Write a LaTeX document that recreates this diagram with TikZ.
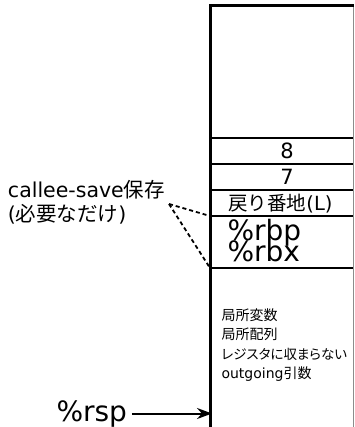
\documentclass[tikz,border=0pt]{standalone}
\usepackage{fontspec}
\setmainfont{DejaVu Sans}
\newfontfamily\dv{DejaVu Sans}
\newfontfamily\cjk{Noto Sans CJK JP}
\newfontfamily\cjkp[RawFeature=+palt]{Noto Sans CJK JP}
\usetikzlibrary{arrows.meta}
\begin{document}
\begin{tikzpicture}[x=1pt,y=-1pt,
  frame/.style={line width=3pt},
  sep/.style={line width=2.2pt},
  rightedge/.style={line width=1pt,draw=black!45},
  lbl/.style={inner sep=0pt,outer sep=0pt},
  big/.style={lbl,font=\dv\fontsize{28}{28}\selectfont},
  mid/.style={lbl,font=\dv\fontsize{21}{21}\selectfont},
  ret/.style={lbl,font=\dv\fontsize{19.5}{19.5}\selectfont},
  small/.style={lbl,font=\dv\fontsize{14}{14}\selectfont},
  smallkana/.style={lbl,font=\dv\fontsize{13.5}{13.5}\selectfont},
  note/.style={lbl,font=\dv\fontsize{20.5}{20.5}\selectfont},
  callout/.style={line width=1.8pt,dash pattern=on 4pt off 3pt},
  rsparrow/.style={line width=2pt,-{Stealth[length=15pt,width=11pt]}}]
\useasboundingbox (0,0) rectangle (354,427);
% frame
\coordinate (bl) at (210,427);
\coordinate (tl) at (210,6);
\coordinate (tr) at (354,6);
\draw[rightedge] (353,6) -- (353,427);
\draw[frame] (bl) -- (tl) -- (tr);
% separators
\coordinate (l1) at (210,138); \coordinate (r1) at (353,138);
\coordinate (l2) at (210,164); \coordinate (r2) at (353,164);
\coordinate (l3) at (210,190); \coordinate (r3) at (353,190);
\coordinate (rbptop) at (210,216); \coordinate (r4) at (353,216);
\coordinate (rbxbot) at (210,268); \coordinate (r5) at (353,268);
\draw[sep] (l1) -- (r1);
\draw[sep] (l2) -- (r2);
\draw[sep] (l3) -- (r3);
\draw[sep] (rbptop) -- (r4);
\draw[sep] (rbxbot) -- (r5);
% cell texts
\node[mid] (eight) at (287,151) {8};
\node[mid] (seven) at (287,177) {7};
\node[ret,anchor=base] (retaddr) at (280.5,211) {{\cjk 戻り番地}(L)};
\node[big,anchor=base west] (rbp) at (227.5,240) {\%rbp};
\node[big,anchor=base west] (rbx) at (227.5,261.7) {\%rbx};
\node[small,anchor=base west] (v1) at (221.5,320.3) {\cjk 局所変数};
\node[small,anchor=base west] (v2) at (221.5,339.8) {\cjk 局所配列};
\node[smallkana,anchor=base west] (v3) at (221.5,359.1) {\cjkp レジスタに収まらない};
\node[small,anchor=base west] (v4) at (221.5,378.3) {outgoing{\cjk 引数}};
% callee-save note
\node[note,anchor=base west] (cs1) at (8,197) {callee-save{\cjk 保存}};
\node[note,anchor=base west] (cs2) at (8,221) {({\cjk 必要なだけ})};
\coordinate (cs) at (169,204);
\draw[callout] (cs) -- (rbptop);
\draw[callout] (cs) -- (rbxbot);
% rsp
\node[big,anchor=base west] (rsp) at (56.5,421.5) {\%rsp};
\coordinate (rsptip) at (212,413.5);
\draw[rsparrow,shorten <=5pt] (rsp.east |- rsptip) -- (rsptip);
\end{tikzpicture}
\end{document}
